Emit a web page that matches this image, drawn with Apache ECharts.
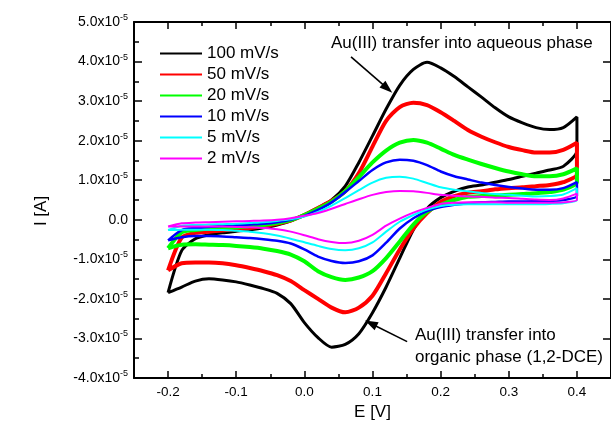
<!DOCTYPE html>
<html>
<head>
<meta charset="utf-8">
<script src="https://cdn.jsdelivr.net/npm/echarts@6/dist/echarts.min.js"></script>
<style>
  html, body { margin: 0; padding: 0; background: #fff; }
  #chart { width: 611px; height: 427px; }
</style>
</head>
<body>
<div id="chart"></div>
<script>
// Potential grid of the cyclic voltammograms (V): forward sweep, then reverse sweep
const E_FWD = [-0.20, -0.18, -0.16, -0.14, -0.12, -0.10, -0.08, -0.06, -0.04, -0.02,
               0.00, 0.02, 0.04, 0.06, 0.08, 0.10, 0.12, 0.14, 0.16, 0.18,
               0.20, 0.22, 0.24, 0.26, 0.28, 0.30, 0.32, 0.34, 0.36, 0.38, 0.40];
const E_REV = [0.40, 0.38, 0.36, 0.34, 0.32, 0.30, 0.28, 0.26, 0.24, 0.22,
               0.20, 0.18, 0.16, 0.14, 0.12, 0.10, 0.08, 0.06, 0.04, 0.02,
               0.00, -0.02, -0.04, -0.06, -0.08, -0.10, -0.12, -0.14, -0.16, -0.18, -0.20];

// Scan rates (legend entries)
const SCAN_RATES = ['100 mV/s', '50 mV/s', '20 mV/s', '10 mV/s', '5 mV/s', '2 mV/s'];

// Currents in units of 1e-5 A
const I_FWD_100 = [-1.84, -0.78, -0.48, -0.38, -0.33, -0.29, -0.25, -0.20, -0.13, -0.03,
                   0.13, 0.30, 0.50, 0.85, 1.45, 2.12, 2.80, 3.40, 3.80, 3.98,
                   3.84, 3.62, 3.36, 3.10, 2.83, 2.60, 2.45, 2.33, 2.28, 2.33, 2.60];
const I_REV_100 = [1.75, 1.35, 1.26, 1.18, 1.10, 1.02, 0.95, 0.88, 0.83, 0.72,
                   0.56, 0.28, -0.25, -0.97, -1.70, -2.35, -2.88, -3.15, -3.22, -2.98,
                   -2.60, -2.12, -1.86, -1.74, -1.65, -1.57, -1.52, -1.49, -1.55, -1.70, -1.84];

const I_FWD_50 = [-1.28, -0.45, -0.33, -0.30, -0.27, -0.24, -0.21, -0.16, -0.10, -0.02,
                  0.12, 0.30, 0.48, 0.72, 1.18, 1.85, 2.50, 2.85, 2.96, 2.90,
                  2.72, 2.50, 2.27, 2.10, 1.96, 1.84, 1.76, 1.70, 1.70, 1.77, 1.95];
const I_REV_50 = [1.15, 0.95, 0.88, 0.85, 0.82, 0.80, 0.77, 0.72, 0.68, 0.60,
                  0.45, 0.17, -0.22, -0.75, -1.35, -1.92, -2.22, -2.34, -2.22, -2.00,
                  -1.78, -1.55, -1.40, -1.30, -1.22, -1.15, -1.10, -1.08, -1.08, -1.10, -1.28];

const I_FWD_20 = [-0.72, -0.32, -0.26, -0.23, -0.21, -0.19, -0.16, -0.13, -0.08, -0.01,
                  0.12, 0.28, 0.46, 0.72, 1.08, 1.45, 1.75, 1.95, 2.02, 1.95,
                  1.80, 1.64, 1.52, 1.41, 1.31, 1.22, 1.15, 1.10, 1.10, 1.15, 1.30];
const I_REV_20 = [0.95, 0.76, 0.70, 0.67, 0.65, 0.63, 0.61, 0.60, 0.58, 0.50,
                  0.38, 0.20, -0.12, -0.55, -0.97, -1.30, -1.46, -1.52, -1.45, -1.30,
                  -1.05, -0.88, -0.79, -0.73, -0.69, -0.66, -0.64, -0.63, -0.62, -0.63, -0.72];

const I_FWD_10 = [-0.52, -0.26, -0.21, -0.18, -0.16, -0.14, -0.12, -0.10, -0.06, 0.00,
                  0.10, 0.25, 0.44, 0.70, 0.98, 1.26, 1.45, 1.52, 1.49, 1.38,
                  1.22, 1.10, 1.02, 0.94, 0.88, 0.83, 0.79, 0.76, 0.76, 0.80, 0.95];
const I_REV_10 = [0.60, 0.50, 0.48, 0.47, 0.46, 0.46, 0.45, 0.44, 0.42, 0.38,
                  0.32, 0.22, 0.04, -0.22, -0.58, -0.90, -1.05, -1.09, -1.04, -0.93,
                  -0.75, -0.60, -0.53, -0.49, -0.46, -0.44, -0.42, -0.41, -0.41, -0.44, -0.52];

const I_FWD_5 = [-0.26, -0.15, -0.13, -0.12, -0.11, -0.10, -0.08, -0.06, -0.03, 0.01,
                 0.08, 0.20, 0.36, 0.55, 0.75, 0.94, 1.06, 1.09, 1.04, 0.93,
                 0.82, 0.76, 0.72, 0.68, 0.65, 0.63, 0.61, 0.59, 0.60, 0.64, 0.80];
const I_REV_5 = [0.50, 0.42, 0.40, 0.39, 0.39, 0.39, 0.39, 0.39, 0.39, 0.38,
                 0.35, 0.26, 0.12, -0.05, -0.30, -0.57, -0.72, -0.77, -0.74, -0.66,
                 -0.57, -0.48, -0.40, -0.34, -0.30, -0.28, -0.26, -0.25, -0.25, -0.25, -0.26];

const I_FWD_2 = [-0.17, -0.09, -0.07, -0.06, -0.05, -0.04, -0.03, -0.02, 0.00, 0.04,
                 0.10, 0.17, 0.28, 0.40, 0.52, 0.63, 0.70, 0.73, 0.72, 0.68,
                 0.63, 0.61, 0.59, 0.58, 0.56, 0.55, 0.53, 0.51, 0.50, 0.54, 0.66];
const I_REV_2 = [0.50, 0.44, 0.43, 0.43, 0.43, 0.43, 0.44, 0.44, 0.44, 0.43,
                 0.40, 0.30, 0.18, 0.03, -0.15, -0.38, -0.53, -0.59, -0.56, -0.49,
                 -0.39, -0.30, -0.24, -0.21, -0.19, -0.18, -0.17, -0.17, -0.17, -0.17, -0.17];

const FWD_SETS = [I_FWD_100, I_FWD_50, I_FWD_20, I_FWD_10, I_FWD_5, I_FWD_2];
const REV_SETS = [I_REV_100, I_REV_50, I_REV_20, I_REV_10, I_REV_5, I_REV_2];

// Axis tick positions
const X_MAJOR = [-0.2, -0.1, 0.0, 0.1, 0.2, 0.3, 0.4];
const X_MINOR = [-0.15, -0.05, 0.05, 0.15, 0.25, 0.35];

// Annotation arrows (tail -> head), in axis units (V, 1e-5 A)
const ARROW_AQ = [[0.0685, 4.12], [0.1218, 3.32]];
const ARROW_ORG = [[0.1508, -3.08], [0.0975, -2.62]];

const FONT = '"Liberation Sans", Arial, sans-serif';
const COLORS = ['#000000', '#ff0000', '#00ff00', '#0000ff', '#00ffff', '#ff00ff'];
const WIDTHS = [3, 4, 4, 2.5, 2, 2];

function loopData(fwd, rev) {
  return E_FWD.map((e, i) => [e, fwd[i]]).concat(E_REV.map((e, i) => [e, rev[i]]));
}

const axisLineStyle = { color: '#000', width: 2 };
const tickStyle = { color: '#000', width: 1.5 };

const series = SCAN_RATES.map((name, k) => ({
  name: name,
  type: 'line',
  xAxisIndex: 0,
  yAxisIndex: 0,
  data: loopData(FWD_SETS[k], REV_SETS[k]),
  showSymbol: false,
  symbol: 'none',
  smooth: 0.25,
  color: COLORS[k],
  lineStyle: { color: COLORS[k], width: WIDTHS[k] },
  z: 2 + k
}));

// Arrows pointing at the two transfer waves
series.push({
  name: 'arrows',
  type: 'line',
  xAxisIndex: 0,
  yAxisIndex: 0,
  data: [],
  symbol: 'none',
  z: 20,
  markLine: {
    silent: true,
    animation: false,
    symbol: ['none', 'triangle'],
    symbolSize: [9, 13],
    label: { show: false },
    lineStyle: { color: '#000', width: 1.6, type: 'solid' },
    data: [
      [{ coord: ARROW_AQ[0] }, { coord: ARROW_AQ[1] }],
      [{ coord: ARROW_ORG[0] }, { coord: ARROW_ORG[1] }]
    ]
  }
});

const chart = echarts.init(document.getElementById('chart'), null, { renderer: 'canvas' });

chart.setOption({
  animation: false,
  backgroundColor: '#fff',
  textStyle: { fontFamily: FONT },
  grid: { left: 134, right: -5, top: 22, bottom: 49, containLabel: false },
  legend: {
    data: SCAN_RATES.map(n => ({ name: n, icon: 'rect' })),
    orient: 'vertical',
    left: 160,
    top: 45,
    padding: 0,
    itemWidth: 42,
    itemHeight: 2,
    itemGap: 4,
    selectedMode: false,
    textStyle: { fontFamily: FONT, fontSize: 17, color: '#000' }
  },
  xAxis: [
    {
      type: 'value', position: 'bottom', min: -0.25, max: 0.45,
      axisLine: { show: true, onZero: false, lineStyle: axisLineStyle },
      axisTick: { show: true, inside: true, length: 7, lineStyle: tickStyle, customValues: X_MAJOR },
      axisLabel: {
        customValues: X_MAJOR, margin: 7, fontSize: 13.5, color: '#000', fontFamily: FONT,
        formatter: v => v.toFixed(1)
      },
      splitLine: { show: false },
      name: 'E [V]', nameLocation: 'middle', nameGap: 23,
      nameTextStyle: { fontFamily: FONT, fontSize: 17, color: '#000' }
    },
    {
      type: 'value', position: 'bottom', min: -0.25, max: 0.45,
      axisLine: { show: false, onZero: false },
      axisTick: { show: true, inside: true, length: 4, lineStyle: tickStyle, customValues: X_MINOR },
      axisLabel: { show: false },
      splitLine: { show: false }
    },
    {
      type: 'value', position: 'top', min: -0.25, max: 0.45,
      axisLine: { show: true, onZero: false, lineStyle: axisLineStyle },
      axisTick: { show: true, inside: true, length: 7, lineStyle: tickStyle, customValues: X_MAJOR },
      axisLabel: { show: false },
      splitLine: { show: false }
    },
    {
      type: 'value', position: 'top', min: -0.25, max: 0.45,
      axisLine: { show: false, onZero: false },
      axisTick: { show: true, inside: true, length: 4, lineStyle: tickStyle, customValues: X_MINOR },
      axisLabel: { show: false },
      splitLine: { show: false }
    }
  ],
  yAxis: [
    {
      type: 'value', position: 'left', min: -4, max: 5, interval: 1,
      axisLine: { show: true, onZero: false, lineStyle: axisLineStyle },
      axisTick: { show: true, inside: true, length: 8, lineStyle: tickStyle },
      minorTick: { show: true, splitNumber: 2, length: 5, lineStyle: tickStyle },
      splitLine: { show: false },
      minorSplitLine: { show: false },
      axisLabel: {
        margin: 6,
        formatter: v => v === 0 ? '{m|0.0}' : '{m|' + v.toFixed(1) + 'x10}{e|-5}',
        rich: {
          m: { fontFamily: FONT, fontSize: 14, lineHeight: 18, color: '#000' },
          e: { fontFamily: FONT, fontSize: 9, lineHeight: 18, color: '#000', verticalAlign: 'top' }
        }
      }
    },
    {
      type: 'value', position: 'right', min: -4, max: 5, interval: 1,
      axisLine: { show: true, onZero: false, lineStyle: axisLineStyle },
      axisTick: { show: true, inside: true, length: 8, lineStyle: tickStyle },
      axisLabel: { show: false },
      splitLine: { show: false }
    }
  ],
  graphic: [
    {
      type: 'text', x: 41, y: 211, rotation: Math.PI / 2,
      style: { text: 'I [A]', fontFamily: FONT, fontSize: 17, fill: '#000', align: 'center', verticalAlign: 'middle' }
    },
    {
      type: 'text', x: 331, y: 43,
      style: { text: 'Au(III) transfer into aqueous phase', fontFamily: FONT, fontSize: 17, fill: '#000', align: 'left', verticalAlign: 'middle' }
    },
    {
      type: 'text', x: 415, y: 335,
      style: { text: 'Au(III) transfer into', fontFamily: FONT, fontSize: 17, fill: '#000', align: 'left', verticalAlign: 'middle' }
    },
    {
      type: 'text', x: 415, y: 357,
      style: { text: 'organic phase (1,2-DCE)', fontFamily: FONT, fontSize: 17, fill: '#000', align: 'left', verticalAlign: 'middle' }
    }
  ],
  series: series
});
</script>
</body>
</html>
